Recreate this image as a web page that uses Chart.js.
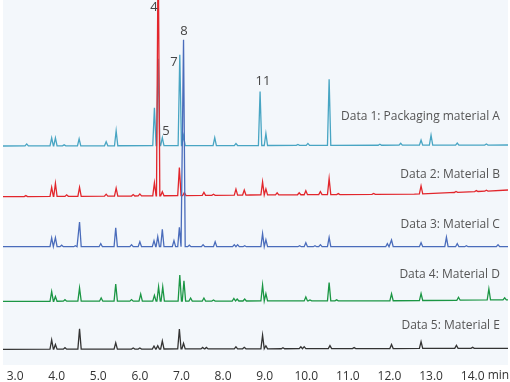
<!DOCTYPE html>
<html><head><meta charset="utf-8">
<script src="https://cdn.jsdelivr.net/npm/chart.js@4"></script>
<style>html,body{margin:0;padding:0;background:#fff}canvas{display:block}</style>
</head><body>
<canvas id="c" width="510" height="382"></canvas>
<script>
// ---------- data ----------
const xRange = [2.71, 14.85];
const tickValues = [3, 4, 5, 6, 7, 8, 9, 10, 11, 12, 13, 14];
const tickLabels = ['3.0', '4.0', '5.0', '6.0', '7.0', '8.0', '9.0', '10.0', '11.0', '12.0', '13.0', '14.0'];
const axisUnit = 'min';
const seriesNames = ['Data 1: Packaging material A', 'Data 2: Material B', 'Data 3: Material C', 'Data 4: Material D', 'Data 5: Material E'];

// retention time (min) and peak height (arbitrary units)
const d1Times   = [3.28, 3.88, 3.97, 4.18, 4.54, 5.19, 5.43, 6.35, 6.44, 6.54, 6.96, 7.05, 7.80, 8.31, 8.89, 9.03, 9.80, 10.04, 10.55, 11.77, 12.27, 12.76, 13.00, 13.63, 14.33];
const d1Heights = [2, 8, 8, 1, 7, 4, 15, 38, 87, 8, 91, 10, 8, 2, 54, 12, 1, 2, 66, 1, 2, 5, 10, 2, 1];
const d1BaseT = [2.71, 14.85];
const d1BaseY = [0, 1];

const d2Times   = [3.26, 3.88, 3.97, 4.24, 4.55, 5.19, 5.43, 5.84, 6.00, 6.35, 6.44, 6.54, 6.95, 7.07, 7.54, 7.77, 8.31, 8.51, 8.95, 9.03, 9.30, 9.83, 9.99, 10.34, 10.55, 10.77, 11.62, 12.76, 13.60, 14.09, 14.33];
const d2Heights = [1, 9, 13, 1.5, 9, 2, 8, 1.5, 2, 13, 260, 4, 28, 3, 3, 1, 6, 5, 13, 6, 2, 2, 4, 3, 16, 1, 1, 8, 1, 1, 1];
const d2BaseT = [2.71, 5.84, 8.65, 12.6, 13.45, 14.3, 14.85];
const d2BaseY = [0, 0.7, 1.7, 2.5, 4, 5.5, 6.7];

const d3Times   = [3.88, 3.97, 4.12, 4.45, 4.55, 5.06, 5.42, 5.80, 6.00, 6.34, 6.43, 6.54, 6.82, 6.95, 7.05, 7.19, 7.52, 7.81, 8.27, 8.35, 8.52, 8.95, 9.03, 9.84, 9.99, 10.21, 10.34, 10.55, 11.95, 12.05, 12.76, 13.37, 13.63, 13.85, 14.61];
const d3Heights = [8.7, 9, 1.5, 1, 24.7, 3, 19, 2, 5, 6, 10, 17.4, 6, 19.4, 207, 1.5, 2, 5, 2, 2, 1, 13, 7, 1, 4, 1, 2, 9.3, 3, 6.7, 4, 9.4, 3, 1, 2];
const d3BaseT = [2.71, 14.85];
const d3BaseY = [0, 0];

const d4Times   = [3.88, 3.97, 4.20, 4.55, 5.07, 5.42, 5.80, 6.02, 6.35, 6.45, 6.55, 6.96, 7.06, 7.22, 7.54, 7.77, 8.26, 8.34, 8.52, 8.95, 9.03, 9.99, 10.09, 10.55, 10.73, 12.05, 12.76, 13.66, 14.39, 14.77];
const d4Heights = [9.6, 4.7, 1.5, 13.3, 3.3, 17, 1.5, 7, 5.7, 14.3, 14.3, 26, 20.3, 3, 3, 1, 2.5, 2, 2, 16, 7.3, 4, 1, 18.3, 1, 7, 7, 3, 11, 2];
const d4BaseT = [2.71, 12.0, 14.85];
const d4BaseY = [0, 0.5, 1.5];

const d5Times   = [3.88, 3.97, 4.20, 4.55, 5.42, 5.84, 6.00, 6.34, 6.43, 6.54, 6.95, 7.05, 7.51, 7.60, 8.31, 8.51, 8.95, 9.03, 9.44, 9.87, 9.95, 10.57, 11.15, 12.05, 12.76, 13.61, 14.00];
const d5Heights = [9.3, 4.7, 1.5, 20.3, 6.3, 1, 1, 3, 3.3, 8, 20, 5.7, 1.5, 1.5, 2, 1.5, 13.6, 3, 1, 2, 2, 3, 1, 4, 6.7, 3, 1];
const d5BaseT = [2.71, 14.85];
const d5BaseY = [0, 1];

// peak number annotations: label, retention time
const peakLabelText = ['4', '5', '7', '8', '11'];
const peakLabelTime = [6.34, 6.63, 6.82, 7.06, 8.96];

// ---------- layout / style ----------
const yMax = 365;
const traceOffsets = [219, 168.3, 118.3, 63.7, 15.7];
const traceColors = ['#48a5c3', '#e2262c', '#4a6cbb', '#1b9644', '#333333'];
const traceLabelY = [248.3, 190, 140, 90, 39.3];
const traceLabelT = 14.655;
const peakLabelY = [358, 234, 303, 334, 284];
const peakW = 0.04;
const FONT = '"Open Sans", "Noto Sans", sans-serif';

const traces = [
  [d1Times, d1Heights, d1BaseT, d1BaseY],
  [d2Times, d2Heights, d2BaseT, d2BaseY],
  [d3Times, d3Heights, d3BaseT, d3BaseY],
  [d4Times, d4Heights, d4BaseT, d4BaseY],
  [d5Times, d5Heights, d5BaseT, d5BaseY]
];

function baseAt(bt, by, t) {
  for (let i = 0; i < bt.length - 1; i++) {
    if (t >= bt[i] && t <= bt[i + 1]) {
      return by[i] + (by[i + 1] - by[i]) * (t - bt[i]) / (bt[i + 1] - bt[i]);
    }
  }
  return by[by.length - 1];
}

function buildPoints(tr, off) {
  const [times, heights, bt, by] = tr;
  const pts = [];
  bt.forEach((t, i) => {
    if (!times.some(p => Math.abs(p - t) <= peakW)) pts.push({ x: t, y: off + by[i] });
  });
  times.forEach((t, i) => {
    const b = baseAt(bt, by, t);
    pts.push({ x: t - peakW, y: off + baseAt(bt, by, t - peakW) });
    pts.push({ x: t, y: off + b + heights[i] });
    pts.push({ x: t + peakW, y: off + baseAt(bt, by, t + peakW) });
  });
  pts.sort((a, b) => a.x - b.x);
  return pts;
}

const datasets = traces.map((tr, i) => ({
  label: seriesNames[i],
  data: buildPoints(tr, traceOffsets[i]),
  borderColor: traceColors[i],
  borderWidth: 1.3,
  pointRadius: 0,
  tension: 0,
  fill: false,
  order: 5 - i
}));

const decor = {
  id: 'decor',
  beforeDraw(chart) {
    const { ctx, chartArea: a } = chart;
    ctx.save();
    ctx.fillStyle = '#f3f7fb';
    ctx.fillRect(a.left, a.top, a.right - a.left, a.bottom - a.top);
    ctx.restore();
  },
  afterDraw(chart) {
    const { ctx } = chart;
    const xs = chart.scales.x, ys = chart.scales.y;
    ctx.save();
    ctx.font = '12px ' + FONT;
    ctx.fillStyle = '#555';
    ctx.textAlign = 'right';
    ctx.textBaseline = 'middle';
    seriesNames.forEach((n, i) => {
      ctx.fillText(n, xs.getPixelForValue(traceLabelT), ys.getPixelForValue(traceLabelY[i]));
    });
    ctx.fillStyle = '#444';
    ctx.textAlign = 'center';
    ctx.font = '13px ' + FONT;
    peakLabelText.forEach((t, i) => {
      ctx.fillText(t, xs.getPixelForValue(peakLabelTime[i]), ys.getPixelForValue(peakLabelY[i]));
    });
    ctx.font = '12px ' + FONT;
    ctx.fillStyle = '#333';
    ctx.fillText(axisUnit, xs.getPixelForValue(14.62), 376);
    ctx.restore();
  }
};

new Chart(document.getElementById('c'), {
  type: 'line',
  data: { datasets },
  options: {
    responsive: false,
    animation: false,
    layout: { padding: { left: 3, right: 2, top: 0, bottom: 0 } },
    plugins: { legend: { display: false }, tooltip: { enabled: false } },
    scales: {
      x: {
        type: 'linear',
        min: xRange[0],
        max: xRange[1],
        grid: { display: false, drawTicks: false },
        border: { display: false },
        afterBuildTicks(s) { s.ticks = tickValues.map(v => ({ value: v })); },
        afterFit(s) { s.height = 17; },
        ticks: {
          autoSkip: false,
          maxRotation: 0,
          padding: 4,
          color: '#333',
          font: { family: FONT, size: 12 },
          callback: (v, i) => tickLabels[i]
        }
      },
      y: { display: false, min: 0, max: yMax }
    }
  },
  plugins: [decor]
});
</script>
</body></html>
